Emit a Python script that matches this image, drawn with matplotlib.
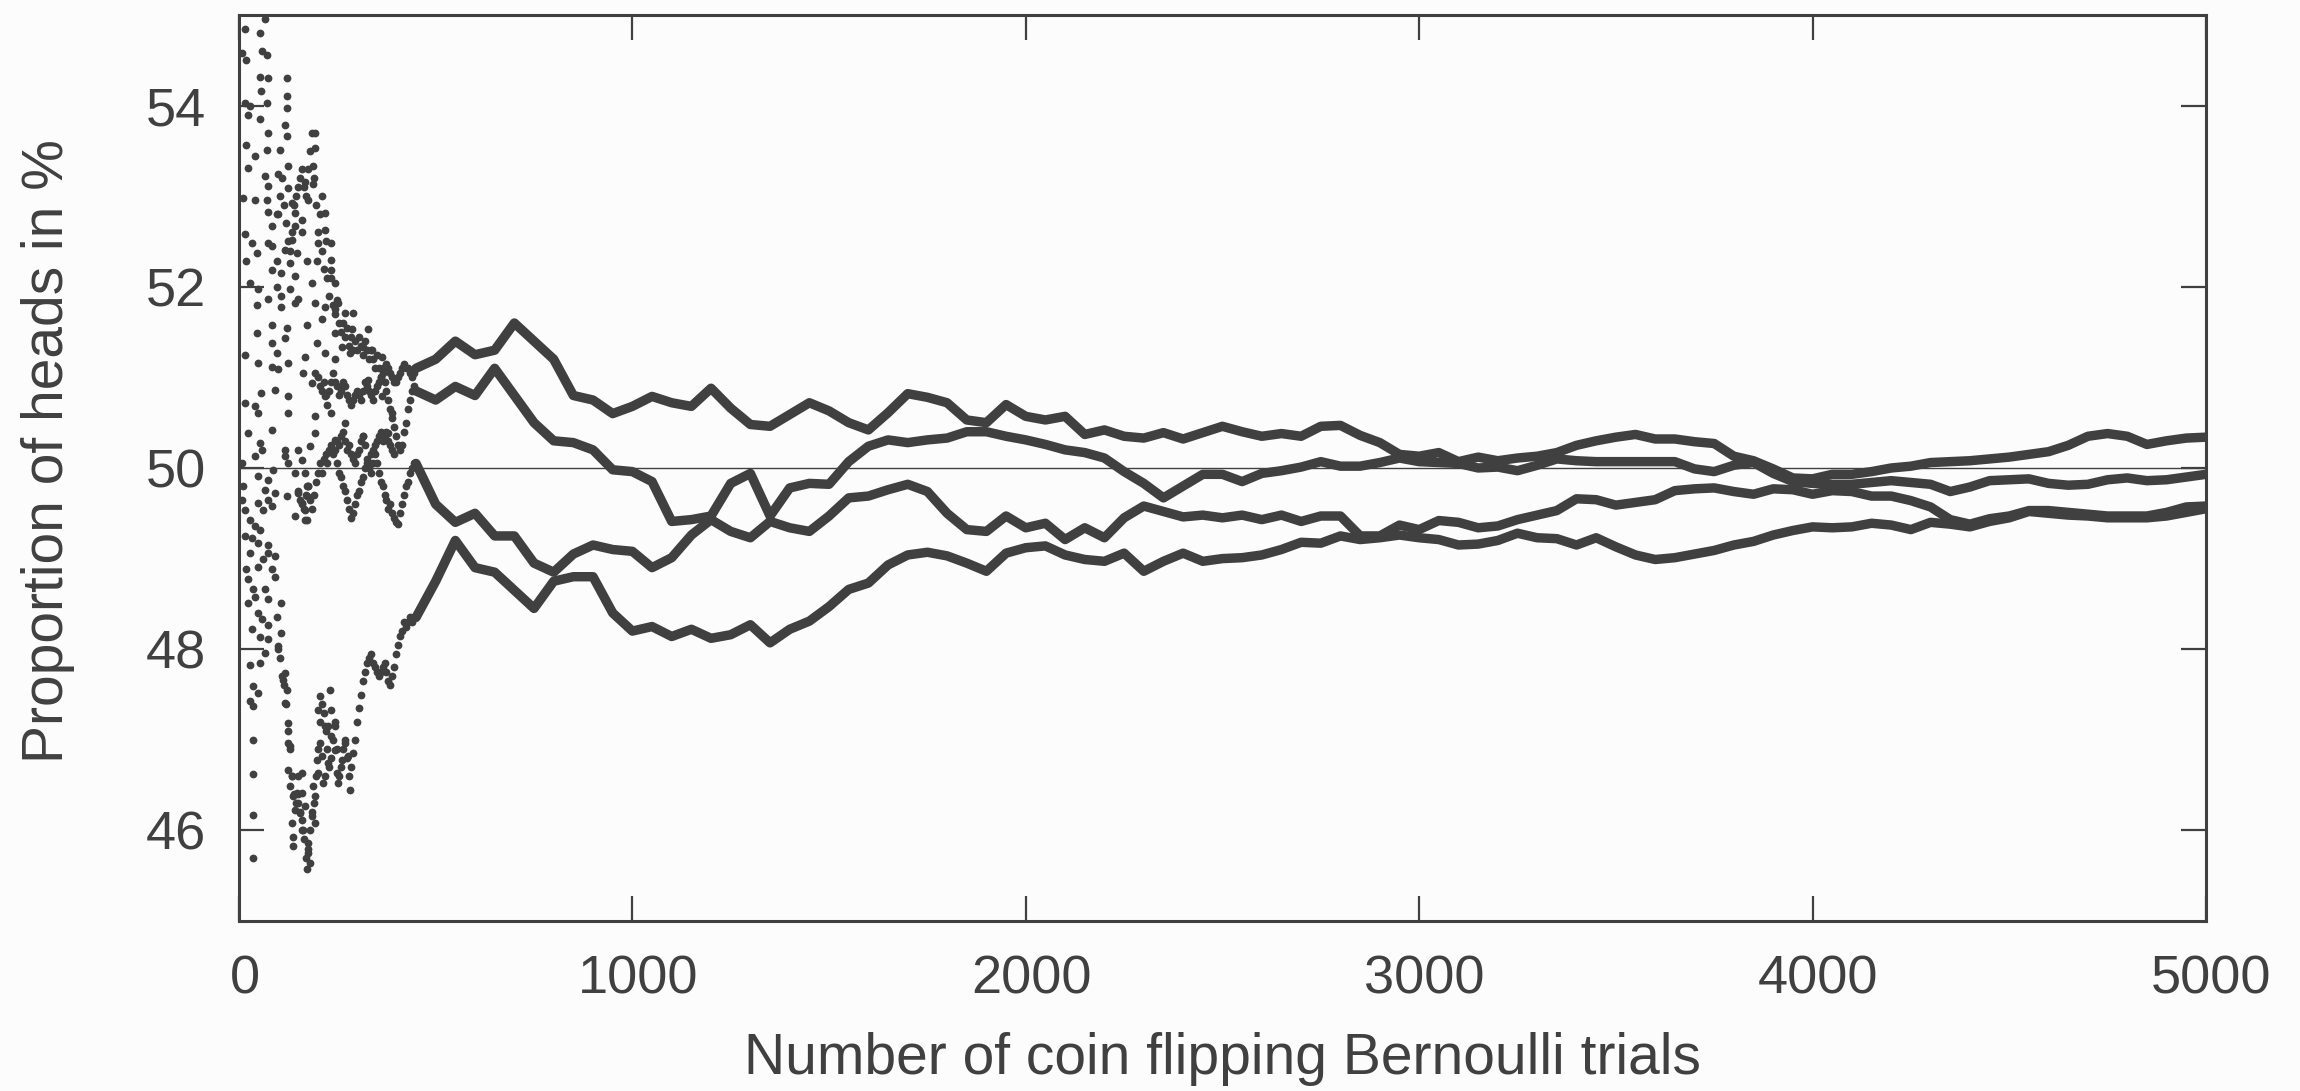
import matplotlib.pyplot as plt
import matplotlib.transforms as mtransforms
import numpy as np

# running share of heads (%) for four coin-flip runs
# runs are listed top to bottom at each sampled trial count
trials = np.arange(450, 5001, 50)

run_1 = [51.10, 51.20, 51.40, 51.25, 51.30, 51.60, 51.40, 51.20, 50.80, 50.75,
         50.60, 50.68, 50.79, 50.72, 50.68, 50.88, 50.66, 50.48, 50.46, 50.59,
         50.72, 50.63, 50.50, 50.42, 50.61, 50.82, 50.78, 50.72, 50.53, 50.50,
         50.70, 50.57, 50.53, 50.57, 50.37, 50.42, 50.35, 50.33, 50.39, 50.32,
         50.39, 50.46, 50.40, 50.35, 50.38, 50.35, 50.46, 50.47, 50.36, 50.28,
         50.15, 50.13, 50.17, 50.07, 50.12, 50.08, 50.11, 50.13, 50.17, 50.25,
         50.30, 50.34, 50.37, 50.32, 50.32, 50.29, 50.27, 50.13, 50.08, 49.99,
         49.89, 49.88, 49.93, 49.93, 49.96, 50.00, 50.02, 50.06, 50.07, 50.08,
         50.10, 50.12, 50.15, 50.18, 50.25, 50.35, 50.38, 50.35, 50.26, 50.30,
         50.33, 50.34]

run_2 = [50.85, 50.75, 50.90, 50.80, 51.10, 50.80, 50.50, 50.30, 50.28, 50.20,
         49.98, 49.96, 49.85, 49.41, 49.43, 49.47, 49.83, 49.94, 49.47, 49.78,
         49.83, 49.82, 50.07, 50.24, 50.31, 50.28, 50.31, 50.33, 50.40, 50.40,
         50.35, 50.31, 50.26, 50.20, 50.17, 50.11, 49.96, 49.83, 49.67, 49.80,
         49.93, 49.93, 49.85, 49.94, 49.97, 50.01, 50.07, 50.02, 50.02, 50.06,
         50.11, 50.07, 50.06, 50.05, 50.00, 50.01, 49.97, 50.03, 50.10, 50.08,
         50.07, 50.07, 50.07, 50.07, 50.07, 49.99, 49.96, 50.03, 50.06, 49.94,
         49.85, 49.83, 49.82, 49.82, 49.84, 49.86, 49.84, 49.82, 49.74, 49.79,
         49.86, 49.87, 49.88, 49.83, 49.81, 49.82, 49.87, 49.89, 49.86, 49.87,
         49.90, 49.93]

run_3 = [50.05, 49.60, 49.40, 49.50, 49.25, 49.25, 48.95, 48.85, 49.05, 49.15,
         49.10, 49.08, 48.90, 49.01, 49.26, 49.43, 49.30, 49.23, 49.41, 49.34,
         49.30, 49.47, 49.67, 49.69, 49.76, 49.82, 49.74, 49.50, 49.32, 49.30,
         49.47, 49.34, 49.39, 49.21, 49.34, 49.23, 49.45, 49.58, 49.52, 49.46,
         49.48, 49.45, 49.48, 49.43, 49.48, 49.41, 49.47, 49.47, 49.25, 49.25,
         49.37, 49.32, 49.42, 49.40, 49.34, 49.36, 49.43, 49.48, 49.53, 49.66,
         49.65, 49.59, 49.62, 49.65, 49.75, 49.77, 49.78, 49.74, 49.71, 49.77,
         49.76, 49.71, 49.75, 49.74, 49.69, 49.69, 49.64, 49.57, 49.43, 49.38,
         49.44, 49.47, 49.53, 49.53, 49.51, 49.49, 49.47, 49.47, 49.47, 49.51,
         49.57, 49.58]

run_4 = [48.35, 48.75, 49.20, 48.90, 48.85, 48.65, 48.45, 48.75, 48.80, 48.80,
         48.40, 48.20, 48.25, 48.14, 48.22, 48.12, 48.16, 48.27, 48.07, 48.22,
         48.31, 48.47, 48.66, 48.73, 48.93, 49.04, 49.07, 49.03, 48.95, 48.86,
         49.06, 49.12, 49.14, 49.04, 48.99, 48.97, 49.06, 48.86, 48.97, 49.06,
         48.97, 49.00, 49.01, 49.04, 49.10, 49.18, 49.17, 49.25, 49.21, 49.23,
         49.26, 49.23, 49.21, 49.15, 49.16, 49.20, 49.28, 49.23, 49.22, 49.15,
         49.23, 49.13, 49.04, 48.99, 49.01, 49.05, 49.09, 49.15, 49.19, 49.26,
         49.31, 49.35, 49.34, 49.35, 49.39, 49.37, 49.32, 49.40, 49.38, 49.35,
         49.41, 49.45, 49.52, 49.50, 49.48, 49.47, 49.45, 49.45, 49.45, 49.47,
         49.51, 49.55]

# first few hundred trials: single dots that jump around
early_trial = [15, 53, 66, 7, 19, 58, 70, 53, 75, 121, 55, 70, 15, 28, 121, 121, 24, 53, 75, 117,
               121, 193, 19, 70, 40, 104, 193, 24, 66, 125, 100, 189, 168, 75, 125, 189, 11, 40, 70, 134,
               176, 210, 75, 96, 142, 159, 218, 83, 142, 159, 218, 15, 32, 75, 134, 202, 235, 45, 83, 117,
               147, 19, 96, 130, 172, 198, 235, 83, 108, 142, 235, 28, 49, 96, 130, 185, 244, 75, 108, 151,
               193, 218, 252, 45, 108, 142, 244, 270, 83, 121, 172, 210, 291, 45, 83, 117, 198, 244, 287, 329,
               316, 96, 168, 218, 261, 15, 49, 125, 83, 100, 163, 193, 244, 282, 338, 363, 91, 125, 41, 57,
               185, 218, 261, 329, 125, 15, 49, 193, 235, 270, 363, 388, 83, 193, 244, 24, 53, 316, 380,
               7, 11, 15, 7, 15, 41, 58, 49, 66, 75, 83, 91, 75, 49, 62, 87, 117, 121, 142, 151,
               159, 172, 168, 172, 142, 28, 40, 53, 32, 49, 75, 28, 62, 75, 91, 49, 83, 19, 24, 36,
               40, 66, 75, 91, 24, 49, 96, 58, 32, 75, 108, 108, 53, 75, 100, 66, 28, 53, 117, 113,
               36, 49, 121, 117, 28, 36, 125, 36, 125, 130, 36, 125, 134, 151, 159, 130, 147, 138, 159, 151,
               168, 142, 155, 36, 134, 159, 185, 138, 163, 176, 138, 176, 172, 36, 180, 193, 193, 189, 202, 198,
               206, 210, 219, 214, 227, 235, 219, 202, 206, 231, 235, 244, 227, 244, 248, 252, 261, 270, 278, 282,
               117, 125, 151, 159, 181, 168, 176, 172, 168]

early_pct = [54.84, 54.80, 54.95, 54.58, 54.50, 54.60, 54.56, 54.32, 54.30, 54.30, 54.16, 54.03, 54.03, 54.00, 54.10, 53.97, 53.90, 53.85, 53.70, 53.79,
             53.66, 53.70, 53.57, 53.51, 53.44, 53.51, 53.53, 53.31, 53.22, 53.33, 53.24, 53.33, 53.16, 53.11, 53.09, 53.13, 52.98, 52.96, 52.96, 52.92,
             52.96, 53.00, 52.83, 52.80, 52.81, 52.74, 52.81, 52.67, 52.67, 52.60, 52.63, 52.58, 52.48, 52.48, 52.52, 52.48, 52.48, 52.37, 52.45, 52.41,
             52.37, 52.28, 52.28, 52.26, 52.28, 52.28, 52.30, 52.19, 52.15, 52.12, 52.19, 52.04, 51.97, 52.00, 51.97, 52.04, 52.04, 51.86, 51.90, 51.86,
             51.82, 51.78, 51.82, 51.80, 51.78, 51.82, 51.75, 51.71, 51.58, 51.55, 51.58, 51.64, 51.71, 51.49, 51.38, 51.43, 51.38, 51.49, 51.53, 51.53,
             51.34, 51.27, 51.23, 51.27, 51.34, 51.25, 51.16, 51.16, 51.12, 51.09, 51.05, 51.05, 51.20, 51.27, 51.30, 51.23, 50.86, 50.79, 50.68, 50.83,
             50.94, 50.79, 50.90, 50.97, 50.61, 50.72, 50.61, 50.57, 50.61, 50.50, 50.79, 50.61, 50.42, 50.39, 50.31, 50.39, 50.28, 50.35, 50.39,
             50.06, 49.80, 49.54, 49.65, 49.25, 50.13, 50.20, 49.91, 49.76, 49.65, 49.58, 49.72, 49.87, 49.61, 49.54, 49.98, 50.13, 49.69, 49.95, 49.72,
             49.61, 49.80, 49.54, 49.43, 49.47, 49.43, 49.36, 49.32, 49.23, 49.17, 49.15, 49.06, 48.99, 49.06, 49.03, 48.91, 48.88, 48.88, 48.77, 48.66,
             48.58, 48.66, 48.55, 48.80, 48.51, 48.40, 48.36, 48.33, 48.22, 48.27, 48.51, 48.18, 48.14, 48.11, 48.03, 47.96, 47.83, 47.85, 47.74, 47.66,
             47.59, 47.52, 47.55, 47.41, 47.43, 47.37, 47.19, 47.00, 46.97, 46.93, 46.62, 46.67, 46.60, 46.60, 46.63, 46.49, 46.41, 46.38, 46.41, 46.30,
             46.27, 46.23, 46.19, 46.17, 46.08, 46.12, 46.16, 45.93, 46.00, 45.86, 45.83, 45.75, 45.57, 45.70, 45.64, 46.08, 46.38, 46.49, 46.63, 46.78,
             46.97, 46.82, 46.60, 46.52, 46.74, 47.04, 47.15, 47.33, 47.48, 47.55, 47.33, 47.15, 47.15, 46.89, 46.63, 46.52, 46.78, 46.97, 46.82, 46.45,
             50.20, 50.06, 50.20, 50.09, 50.24, 49.95, 49.80, 49.69, 49.43]

# dense dot trails where the runs start to settle (one dot every 5 trials)
high_trial = np.arange(100, 450, 5)
high_pct = [52.8, 53.0, 53.2, 52.9, 52.7, 52.5, 52.4, 52.6, 52.9, 53.0,
            53.1, 53.2, 53.3, 53.1, 53.0, 53.3, 53.5, 53.7, 53.2, 52.9,
            52.6, 52.8, 52.4, 52.2, 52.5, 52.1, 51.9, 52.1, 51.8, 51.7,
            51.85, 51.6, 51.5, 51.6, 51.45, 51.55, 51.35, 51.45, 51.3, 51.4,
            51.3, 51.45, 51.35, 51.25, 51.4, 51.3, 51.2, 51.3, 51.2, 51.1,
            51.25, 51.1, 51.0, 51.1, 50.95, 50.85, 50.75, 50.65, 50.55, 50.45,
            50.35, 50.25, 50.2, 50.25, 50.4, 50.5, 50.65, 50.75, 50.85, 50.9]

band_trial = np.arange(200, 450, 5)
band_pct = [51.0, 50.9, 50.85, 50.95, 50.8, 50.7, 50.85, 50.95, 51.05, 50.95,
            50.9, 50.8, 50.85, 50.95, 50.9, 50.8, 50.75, 50.7, 50.75, 50.8,
            50.85, 50.8, 50.75, 50.85, 50.95, 50.9, 50.85, 50.8, 50.75, 50.85,
            50.9, 50.95, 51.0, 51.05, 51.1, 51.15, 51.1, 51.05, 51.0, 50.95,
            50.95, 51.0, 51.05, 51.1, 51.15, 51.1, 51.1, 51.05, 51.0, 51.05]

mid_trial = np.arange(150, 450, 5)
mid_pct = [49.75, 49.65, 49.6, 49.55, 49.7, 49.8, 49.65, 49.55, 49.7, 49.85,
           49.95, 50.05, 49.95, 50.1, 50.15, 50.05, 50.2, 50.25, 50.15, 50.2,
           50.05, 49.95, 49.9, 49.8, 49.75, 49.65, 49.55, 49.45, 49.5, 49.6,
           49.7, 49.75, 49.85, 49.9, 50.0, 50.05, 50.0, 49.95, 50.05, 50.15,
           50.05, 49.95, 49.85, 49.8, 49.7, 49.65, 49.55, 49.6, 49.5, 49.45,
           49.4, 49.38, 49.5, 49.6, 49.7, 49.8, 49.85, 49.95, 50.0, 50.05]

near_trial = np.arange(250, 400, 5)
near_pct = [50.3, 50.25, 50.35, 50.4, 50.3, 50.2, 50.25, 50.15, 50.1, 50.05,
            50.15, 50.2, 50.3, 50.35, 50.25, 50.1, 50.05, 50.15, 50.2, 50.25,
            50.3, 50.35, 50.4, 50.3, 50.35, 50.4, 50.3, 50.25, 50.2, 50.15]

low_trial = np.arange(100, 450, 5)
low_pct = [48.0, 47.9, 47.7, 47.6, 47.4, 47.1, 46.9, 46.6, 46.4, 46.3,
           46.4, 46.2, 46.0, 45.9, 45.7, 45.8, 46.0, 46.2, 46.3, 46.6,
           46.9, 47.2, 47.4, 47.3, 47.1, 46.9, 46.7, 46.8, 47.0, 47.2,
           46.9, 46.6, 46.7, 46.9, 47.0, 46.8, 46.6, 46.7, 46.85, 47.0,
           47.2, 47.35, 47.5, 47.65, 47.75, 47.85, 47.9, 47.95, 47.85, 47.8,
           47.75, 47.7, 47.75, 47.8, 47.85, 47.75, 47.65, 47.6, 47.7, 47.8,
           47.95, 48.05, 48.15, 48.2, 48.3, 48.25, 48.3, 48.35, 48.3, 48.35]

x_ticks = [0, 1000, 2000, 3000, 4000, 5000]
y_ticks = [46, 48, 50, 52, 54]

ink = '#404040'
bg = '#fcfcfc'

plt.rcParams['font.family'] = ['Liberation Sans', 'DejaVu Sans']

fig = plt.figure(figsize=(23, 10.91), dpi=100, facecolor=bg)
ax = fig.add_axes([0.1039, 0.1558, 0.8552, 0.8305])
ax.set_facecolor(bg)

ax.axhline(50, color=ink, lw=1.0, zorder=1)

dot_style = dict(ls='none', marker='o', ms=5.6, color=ink, mec='none', zorder=2)
ax.plot(early_trial, early_pct, **dot_style)
ax.plot(high_trial, high_pct, **dot_style)
ax.plot(band_trial, band_pct, **dot_style)
ax.plot(mid_trial, mid_pct, **dot_style)
ax.plot(near_trial, near_pct, **dot_style)
ax.plot(low_trial, low_pct, **dot_style)

for run in [run_1, run_2, run_3, run_4]:
    ax.plot(trials, run, '-', lw=6.8, color=ink, solid_capstyle='round',
            solid_joinstyle='round', zorder=2)

ax.set_xlim(0, 5000)
ax.set_ylim(45, 55)
ax.set_xticks(x_ticks)
ax.set_yticks(y_ticks)

for s in ax.spines.values():
    s.set_linewidth(2.2)
    s.set_color(ink)

ax.tick_params(direction='in', length=18, width=1.6, color=ink, top=True, right=True,
               labelsize=39, labelcolor=ink)
ax.tick_params(axis='x', pad=24)
ax.tick_params(axis='y', pad=24)

# x tick labels sit a little right of their ticks in the original
shift = mtransforms.ScaledTranslation(4 / 72, 0, fig.dpi_scale_trans)
for lab in ax.get_xticklabels():
    lab.set_transform(lab.get_transform() + shift)

ax.set_xlabel('Number of coin flipping Bernoulli trials', fontsize=41, color=ink)
ax.set_ylabel('Proportion of heads in %', fontsize=41, color=ink)
ax.xaxis.set_label_coords(0.5, -0.152)
ax.xaxis.label.set_va('center')
ax.yaxis.set_label_coords(-0.097, 0.519)
ax.yaxis.label.set_va('center')

fig.savefig('out.png', dpi=100, facecolor=bg)
